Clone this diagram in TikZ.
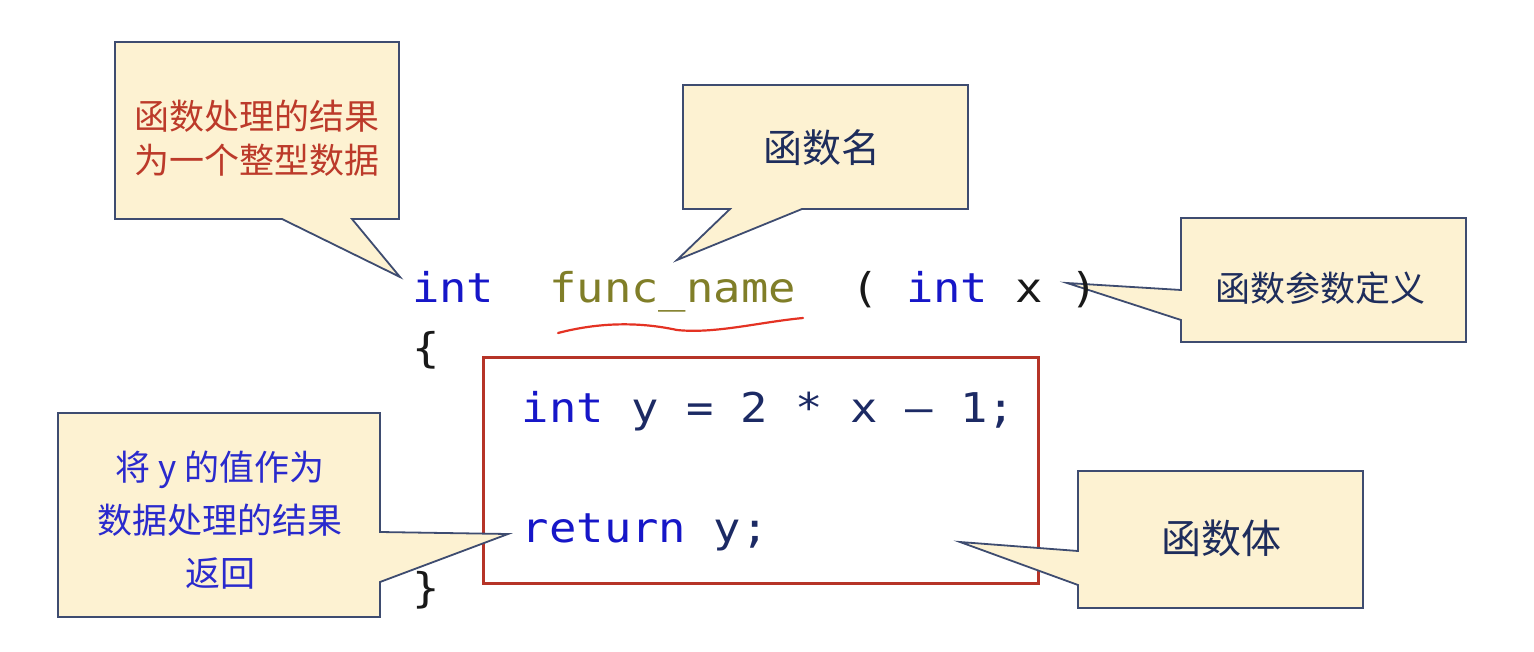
\documentclass[tikz,border=0pt]{standalone}
\usepackage{fontspec}
\newfontfamily\cjk{Noto Sans CJK SC}
\newfontfamily\codefont[FakeStretch=1.11]{DejaVu Sans Mono}
\definecolor{cfill}{RGB}{253,242,210}
\definecolor{cborder}{RGB}{62,76,112}
\definecolor{boxred}{RGB}{182,52,40}
\definecolor{squig}{RGB}{228,50,35}
\definecolor{kw}{RGB}{22,22,200}
\definecolor{fn}{RGB}{128,126,40}
\definecolor{nv}{RGB}{28,42,100}
\definecolor{pn}{RGB}{25,25,25}
\definecolor{redtxt}{RGB}{188,58,42}
\definecolor{navytxt}{RGB}{30,45,92}
\definecolor{bluetxt}{RGB}{42,42,205}
\tikzset{
  callout/.style={draw=cborder, fill=cfill, line width=0.9pt, line join=miter},
  ctext/.style={font=\cjk, align=center, inner sep=0pt, outer sep=0pt},
  code/.style={font=\codefont\fontsize{20.5}{24}\selectfont, anchor=base west, inner sep=0pt, outer sep=0pt},
}
\begin{document}
\begin{tikzpicture}[x=0.5pt,y=-0.5pt]
\useasboundingbox (0,0) rectangle (1534,652);
\fill[white] (0,0) rectangle (1534,652);

% function body frame
\draw[boxred, line width=1.5pt] (483,357) rectangle (1038,583);

% red squiggle under func_name
\draw[squig, line width=1.1pt, line cap=round]
  (558,333) .. controls (600,322) and (640,322) .. (677,330)
  .. controls (715,334) and (760,322) .. (803,318);

% tail tips
\coordinate (tip1) at (400,277);
\coordinate (tip2) at (677,260);
\coordinate (tip3) at (1067,283);
\coordinate (tip4) at (960,542);
\coordinate (tip5) at (508,534);

% callout 1
\draw[callout] (115,42) -- (399,42) -- (399,219) -- (352,219) -- (tip1) -- (282,219) -- (115,219) -- cycle;
\node[ctext, text=redtxt, font=\cjk\fontsize{17.5}{22}\selectfont] (c1) at (257,138) {函数处理的结果\\为一个整型数据};

% callout 2
\draw[callout] (683,85) -- (968,85) -- (968,209) -- (802,209) -- (tip2) -- (730,209) -- (683,209) -- cycle;
\node[ctext, text=navytxt, font=\cjk\fontsize{19.5}{23}\selectfont] (c2) at (822,148) {函数名};

% callout 3
\draw[callout] (1181,218) -- (1466,218) -- (1466,342) -- (1181,342) -- (1181,320) -- (tip3) -- (1181,290) -- cycle;
\node[ctext, text=navytxt, font=\cjk\fontsize{17.5}{20}\selectfont] (c3) at (1320,288) {函数参数定义};

% callout 4
\draw[callout] (1078,471) -- (1363,471) -- (1363,608) -- (1078,608) -- (1078,585) -- (tip4) -- (1078,551) -- cycle;
\node[ctext, text=navytxt, font=\cjk\fontsize{20}{24}\selectfont] (c4) at (1221,538) {函数体};

% callout 5
\draw[callout] (58,413) -- (380,413) -- (380,532) -- (tip5) -- (380,582) -- (380,617) -- (58,617) -- cycle;
\node[ctext, text=bluetxt, font=\cjk\fontsize{17.5}{26.5}\selectfont] (c5) at (220,520) {将 y 的值作为\\数据处理的结果\\返回};

% code
\node[code, text=kw] (k1) at (412,302) {int};
\node[code, text=fn] (fname) at (549.3,302) {func\_name};
\node[code, text=pn] (lp) at (851.2,302) {(};
\node[code, text=kw] (k2) at (906.1,302) {int};
\node[code, text=pn] (px) at (1015.9,302) {x};
\node[code, text=pn] (rp) at (1070.8,302) {)};
\node[code, text=pn] (lb) at (412,362) {\{};
\node[code] (l3) at (521.8,422) {\textcolor{kw}{int} \textcolor{nv}{y = 2 * x – 1;}};
\node[code] (l4) at (521.8,542) {\textcolor{kw}{return} \textcolor{nv}{y;}};
\node[code, text=pn] (rb) at (412,602) {\}};
\end{tikzpicture}
\end{document}
